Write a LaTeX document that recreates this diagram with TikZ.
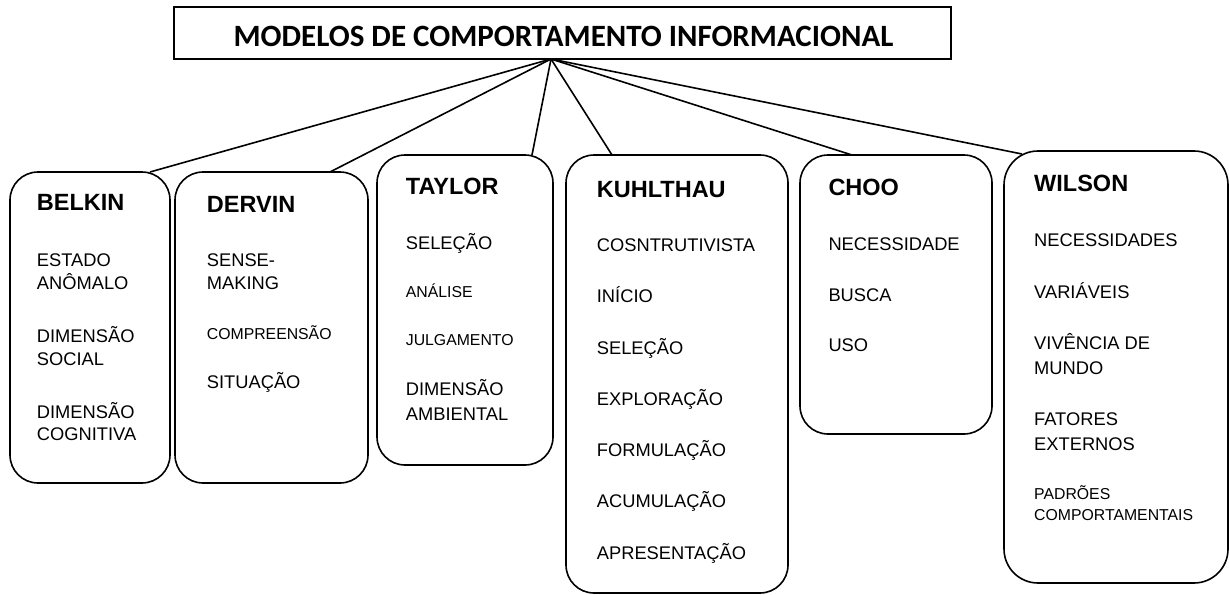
\documentclass[tikz,border=0pt]{standalone}
\usepackage{fontspec}
\setmainfont{Liberation Sans}
\newfontfamily\calibrifont{Carlito}
\begin{document}
\begin{tikzpicture}[x=1pt,y=-1pt,
 rbox/.style={draw, line width=1.6pt, rounded corners=28pt, anchor=north west, inner sep=0pt, outer sep=0pt},
 conn/.style={line width=1.6pt},
 ttl/.style={anchor=base west, inner sep=0pt, font=\fontsize{23.5}{28}\selectfont\bfseries},
 itm/.style={anchor=base west, inner sep=0pt, font=\fontsize{18.3}{22}\selectfont},
 sml/.style={anchor=base west, inner sep=0pt, font=\fontsize{15.8}{19}\selectfont}]
\useasboundingbox (0,0) rectangle (1230,594);

% title
\node[draw, line width=1.6pt, anchor=north west, minimum width=777pt, minimum height=52pt, inner sep=0pt, outer sep=0pt] (titlebox) at (174,7) {};
\node[anchor=base, inner sep=0pt, font=\calibrifont\bfseries\fontsize{31}{36}\selectfont] (titletext) at (563.5,46.7) {MODELOS DE COMPORTAMENTO INFORMACIONAL};
\coordinate (hub) at ([xshift=-11.5pt]titlebox.south);

% boxes
\node[rbox, minimum width=160pt, minimum height=311pt] (belkin) at (10,172) {};
\node[rbox, minimum width=193pt, minimum height=311pt] (dervin) at (175,172) {};
\node[rbox, minimum width=176pt, minimum height=310pt] (taylor) at (377,155) {};
\node[rbox, minimum width=222pt, minimum height=438pt] (kuhl) at (566,155) {};
\node[rbox, minimum width=192pt, minimum height=279pt] (choo) at (800,155) {};
\node[rbox, rounded corners=34pt, minimum width=224pt, minimum height=432pt] (wilson) at (1004,151) {};

% connectors
\draw[conn] (hub) -- ([xshift=-20pt]belkin.north east);
\draw[conn] (hub) -- ([xshift=-38pt]dervin.north east);
\draw[conn] (hub) -- ([xshift=-21pt]taylor.north east);
\draw[conn] (hub) -- ([xshift=46pt]kuhl.north west);
\draw[conn] (hub) -- ([xshift=52pt]choo.north west);
\draw[conn] (hub) -- ([xshift=18pt,yshift=-3pt]wilson.north west);

% BELKIN
\node[ttl] (b0) at (36.7,210) {BELKIN};
\node[itm] (b1) at (36.7,266) {ESTADO};
\node[itm] (b2) at (36.7,289.3) {ANÔMALO};
\node[itm] (b3) at (36.7,342.7) {DIMENSÃO};
\node[itm] (b4) at (36.7,365) {SOCIAL};
\node[itm] (b5) at (36.7,418.3) {DIMENSÃO};
\node[itm] (b6) at (36.7,440.7) {COGNITIVA};

% DERVIN
\node[ttl] (d0) at (206.7,212.3) {DERVIN};
\node[itm] (d1) at (206.7,266) {SENSE-};
\node[itm] (d2) at (206.7,289.3) {MAKING};
\node[sml] (d3) at (206.7,339) {COMPREENSÃO};
\node[itm] (d4) at (206.7,388.3) {SITUAÇÃO};

% TAYLOR
\node[ttl] (t0) at (405.7,194) {TAYLOR};
\node[itm] (t1) at (405.7,249) {SELEÇÃO};
\node[sml] (t2) at (405.7,297.3) {ANÁLISE};
\node[sml] (t3) at (405.7,345) {JULGAMENTO};
\node[itm] (t4) at (405.7,395) {DIMENSÃO};
\node[itm] (t5) at (405.7,420) {AMBIENTAL};

% KUHLTHAU
\node[ttl] (k0) at (596.7,197.3) {KUHLTHAU};
\node[itm] (k1) at (596.7,251) {COSNTRUTIVISTA};
\node[itm] (k2) at (596.7,302.7) {INÍCIO};
\node[itm] (k3) at (596.7,354) {SELEÇÃO};
\node[itm] (k4) at (596.7,405) {EXPLORAÇÃO};
\node[itm] (k5) at (596.7,456) {FORMULAÇÃO};
\node[itm] (k6) at (596.7,507.7) {ACUMULAÇÃO};
\node[itm] (k7) at (596.7,559) {APRESENTAÇÃO};

% CHOO
\node[ttl] (c0) at (828.3,195) {CHOO};
\node[itm] (c1) at (828.3,250) {NECESSIDADE};
\node[itm] (c2) at (828.3,301) {BUSCA};
\node[itm] (c3) at (828.3,351.7) {USO};

% WILSON
\node[ttl] (w0) at (1034,191.7) {WILSON};
\node[itm] (w1) at (1034,246.7) {NECESSIDADES};
\node[itm] (w2) at (1034,298.3) {VARIÁVEIS};
\node[itm] (w3) at (1034,349.3) {VIVÊNCIA DE};
\node[itm] (w4) at (1034,374) {MUNDO};
\node[itm] (w5) at (1034,425) {FATORES};
\node[itm] (w6) at (1034,450) {EXTERNOS};
\node[sml] (w7) at (1034,499.3) {PADRÕES};
\node[sml] (w8) at (1034,520) {COMPORTAMENTAIS};
\end{tikzpicture}
\end{document}
